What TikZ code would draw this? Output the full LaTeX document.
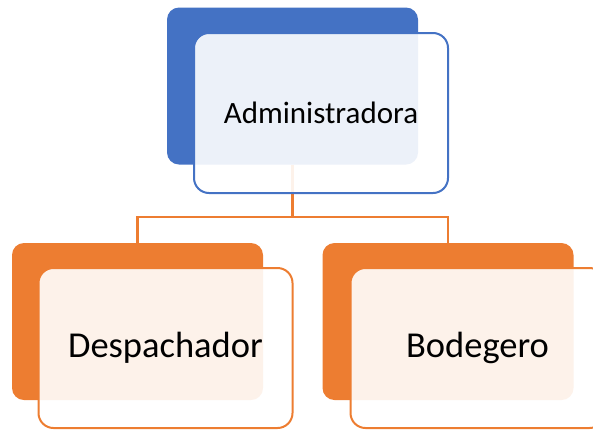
\documentclass[tikz,border=0pt]{standalone}
\usepackage{fontspec}
\setmainfont{Carlito}
\usetikzlibrary{positioning,calc}
\definecolor{orgblue}{RGB}{68, 114, 196}
\definecolor{orgorange}{RGB}{237, 125, 49}

\begin{document}
\begin{tikzpicture}[x=1pt, y=-1pt,
		% Node styles
		backbox/.style={draw=none, fill=#1, rounded corners=12pt,
				minimum width=251pt, minimum height=157pt, inner sep=0pt},
		frontbox/.style={draw=#1, fill=white, fill opacity=0.9, text opacity=1,
				line width=2pt, rounded corners=15pt,
				minimum width=254pt, minimum height=160pt, inner sep=0pt, align=center},
		connector/.style={draw=orgorange, line width=2.2pt},
		toptext/.style={font=\fontsize{31}{37}\selectfont},
		subtext/.style={font=\fontsize{36.5}{43}\selectfont}
	]

	\useasboundingbox (0,0) rectangle (593,429);

	% Filled boxes at the back
	\node[backbox=orgblue] (admin_back) at (292.5,86) {};
	\node[backbox=orgorange] (desp_back) at (137.5,321.5) {};
	\node[backbox=orgorange] (bod_back) at (448,321.5) {};

	% Connections
	\coordinate (split) at (292.5,217);
	\draw[connector] (admin_back.south) -- (split);
	\draw[connector] (split) -| (desp_back.north);
	\draw[connector] (split) -| (bod_back.north);

	% Light boxes in front, with the texts
	\node[frontbox=orgblue, toptext] (admin) at (321,113) {Administradora};
	\node[frontbox=orgorange, subtext] (desp) at (165.5,348) {Despachador};
	\node[frontbox=orgorange, subtext] (bod) at (477.5,348) {Bodegero};

\end{tikzpicture}
\end{document}
